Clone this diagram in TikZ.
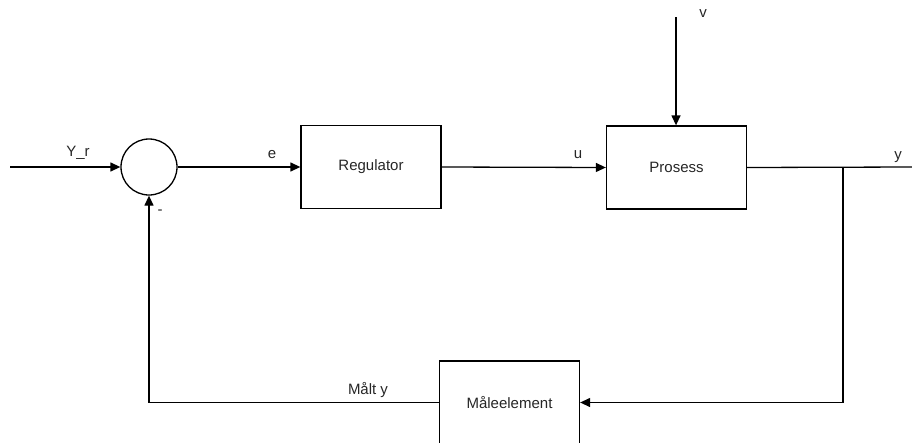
\documentclass[tikz,border=0pt]{standalone}
\usepackage{fontspec}
\setmainfont{Liberation Sans}
\usetikzlibrary{arrows.meta}
\begin{document}
\begin{tikzpicture}[x=1pt,y=-1pt,
  blk/.style={draw, line width=1.3pt, minimum width=140pt, minimum height=83pt, inner sep=0pt},
  sumnode/.style={draw, circle, line width=1.3pt, minimum size=56pt, inner sep=0pt},
  wire/.style={line width=1.3pt},
  sig/.style={wire, -{Triangle[length=10pt,width=9pt]}},
  lbl/.style={font=\fontsize{15}{18}\selectfont, text=black!85, inner sep=0pt},
  every node/.append style={font=\fontsize{15}{18}\selectfont}]
  \useasboundingbox (0,0) rectangle (912,442);
  \clip (0,0) rectangle (912,442);

  % blocks of the loop
  \node[sumnode] (sum) at (149,167) {};
  \node[blk] (reg) at (371,167) {\textcolor{black!85}{Regulator}};
  \node[blk] (proc) at (676.5,167.5) {\textcolor{black!85}{Prosess}};
  \node[blk] (meas) at (509.5,402.5) {\textcolor{black!85}{Måleelement}};

  % free ends and corners
  \coordinate (in) at (10,167);
  \coordinate (vtop) at (676,17);
  \coordinate (branch) at (843,167);
  \coordinate (out) at (912,167);

  % forward path
  \draw[sig] (in) -- (sum.west);
  \draw[sig] (sum.east) -- (reg.west);
  \draw[sig] (reg.east) -- (proc.west);
  \draw[sig] (vtop) -- (proc.north -| vtop);
  \draw[wire] (proc.east) -- (out);

  % feedback path
  \draw[sig] (branch) |- (meas.east);
  \draw[sig] (meas.west) -| (sum.south);

  % signal labels
  \node[lbl] (lyr) at (78,153) {Y\_r};
  \node[lbl] (le) at (272,155) {e};
  \node[lbl] (lu) at (578,155) {u};
  \node[lbl] (lv) at (703,14) {v};
  \node[lbl] (ly) at (898,157) {y};
  \node[lbl] (lm) at (160,212) {-};
  \node[lbl] (lmy) at (368,390) {Målt y};
\end{tikzpicture}
\end{document}
